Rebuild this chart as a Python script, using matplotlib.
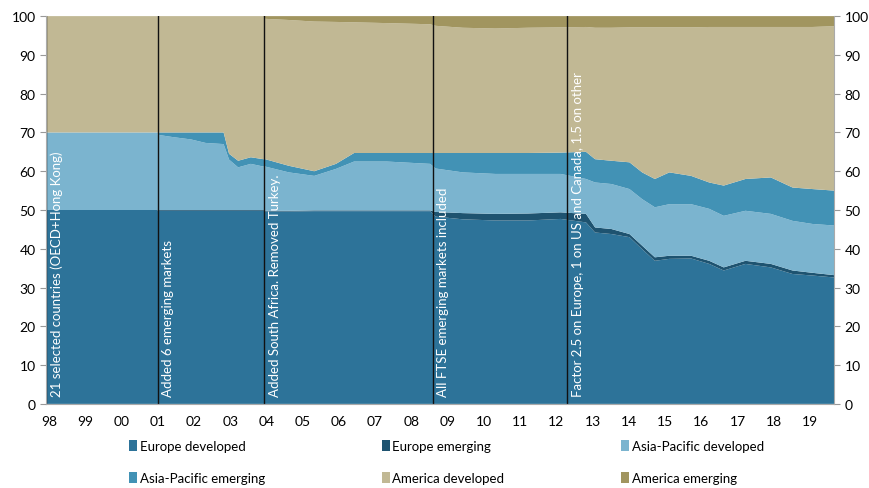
import numpy as np
import matplotlib
matplotlib.use("Agg")
import matplotlib.pyplot as plt
from matplotlib.patches import Patch

plt.rcParams['font.family'] = ['Lato', 'DejaVu Sans']

# time in decimal years
t = np.array([1998.0, 2001.07, 2001.08, 2001.5, 2002.0, 2002.4, 2002.9, 2003.05,
              2003.3, 2003.65, 2004.0, 2004.05, 2004.7, 2005.4, 2006.0, 2006.5,
              2007.4, 2008.6, 2008.75, 2009.5, 2010.4, 2011.3, 2012.2, 2012.9,
              2013.15, 2013.6, 2014.1, 2014.45, 2014.8, 2015.2, 2015.8, 2016.3,
              2016.7, 2017.3, 2018.0, 2018.6, 2019.15, 2019.75])

europe_dev = [50.0, 50.0, 49.8, 49.8, 49.8, 49.8, 49.8, 49.8, 49.8, 49.8, 49.8, 49.6,
              49.6, 49.7, 49.7, 49.7, 49.7, 49.7, 48.3, 47.6, 47.3, 47.3, 47.7, 46.8,
              44.2, 43.8, 43.0, 39.9, 36.9, 37.4, 37.5, 36.1, 34.4, 36.1, 35.2, 33.5,
              33.1, 32.6]
europe_em = [0.0, 0.0, 0.2, 0.2, 0.2, 0.2, 0.2, 0.2, 0.2, 0.2, 0.2, 0.2,
             0.2, 0.2, 0.2, 0.2, 0.2, 0.2, 1.2, 1.6, 1.7, 1.8, 1.7, 2.2,
             1.3, 1.3, 0.8, 0.9, 0.9, 0.8, 0.7, 0.8, 0.8, 0.8, 0.9, 0.9,
             0.7, 0.6]
apac_dev = [20.0, 20.0, 19.4, 18.8, 18.2, 17.3, 17.0, 13.0, 11.0, 11.9, 11.2, 11.4,
            9.9, 8.9, 10.7, 12.6, 12.6, 12.0, 11.2, 10.5, 10.3, 10.2, 9.9, 9.0,
            11.6, 11.6, 11.6, 12.0, 12.9, 13.3, 13.3, 13.4, 13.3, 12.9, 12.9, 12.8,
            12.6, 12.8]
apac_em = [0.0, 0.0, 0.6, 1.2, 1.8, 2.7, 3.0, 1.5, 1.7, 1.7, 1.9, 1.9,
           1.7, 1.2, 1.3, 2.2, 2.2, 2.8, 4.0, 5.0, 5.4, 5.4, 5.5, 7.0,
           6.0, 6.0, 6.9, 6.9, 7.3, 8.2, 7.3, 6.8, 7.8, 8.2, 9.4, 8.6,
           9.0, 9.0]
america_dev = [30.0, 30.0, 29.9, 29.9, 29.9, 29.9, 29.9, 35.4, 37.2, 36.3, 36.8, 36.2,
               37.6, 38.6, 36.6, 33.7, 33.5, 33.2, 32.8, 32.3, 32.1, 32.3, 32.3, 32.2,
               33.9, 34.3, 34.8, 37.4, 39.1, 37.4, 38.3, 40.1, 40.9, 39.2, 38.8, 41.4,
               41.8, 42.4]
america_em = [0.0, 0.0, 0.1, 0.1, 0.1, 0.1, 0.1, 0.1, 0.1, 0.1, 0.1, 0.7,
              1.0, 1.4, 1.5, 1.6, 1.8, 2.1, 2.5, 3.0, 3.2, 3.0, 2.9, 2.8,
              3.0, 3.0, 2.9, 2.9, 2.9, 2.9, 2.9, 2.8, 2.8, 2.8, 2.8, 2.8,
              2.8, 2.6]

labels = ['Europe developed', 'Europe emerging', 'Asia-Pacific developed',
          'Asia-Pacific emerging', 'America developed', 'America emerging']
colors = ['#2d7399', '#1e5370', '#7bb4cf', '#4292b5', '#c1b894', '#a1955f']

# methodology changes
event_years = [1998.0, 2001.08, 2004.02, 2008.68, 2012.38]
event_text = ['21 selected countries (OECD+Hong Kong)',
              'Added 6 emerging markets',
              'Added South Africa. Removed Turkey.',
              'All FTSE emerging markets included',
              'Factor 2.5 on Europe, 1 on US and Canada, 1.5 on other']

fig = plt.figure(figsize=(8.69, 4.89), dpi=100)
ax = fig.add_axes([0.053, 0.172, 0.907, 0.793])

ax.stackplot(t, europe_dev, europe_em, apac_dev, apac_em, america_dev, america_em,
             colors=colors, linewidth=0)

for yr, txt in zip(event_years, event_text):
    ax.axvline(yr, color='#111111', lw=1.0)
    ax.text(yr + 0.12, 2, txt, rotation=90, color='white', fontsize=9.5,
            ha='left', va='bottom')

ax.set_xlim(1998, 2019.75)
ax.set_ylim(0, 100)
years = np.arange(1998, 2020)
ax.set_xticks(years + 0.08)
ax.set_xticklabels(['%02d' % (y % 100) for y in years], fontsize=10)
ax.tick_params(axis='x', length=0, pad=8)
ax.set_yticks(np.arange(0, 101, 10))
ax.tick_params(axis='y', labelsize=10, color='#999999', length=4,
               left=True, right=True, labelleft=True, labelright=True)
ax.spines['top'].set_visible(False)
for s in ['left', 'right', 'bottom']:
    ax.spines[s].set_color('#aaaaaa')

# legend filled column by column, so reorder to read row-wise
order = [0, 3, 1, 4, 2, 5]
handles = [Patch(facecolor=colors[i], edgecolor='none') for i in order]
fig.legend(handles, [labels[i] for i in order], ncol=3, loc='upper left',
           bbox_to_anchor=(0.135, 0.122), frameon=False, fontsize=9.5,
           handlelength=0.6, handleheight=0.9, handletextpad=0.2,
           columnspacing=8.85, labelspacing=1.5)

fig.savefig('out.png', dpi=100)
